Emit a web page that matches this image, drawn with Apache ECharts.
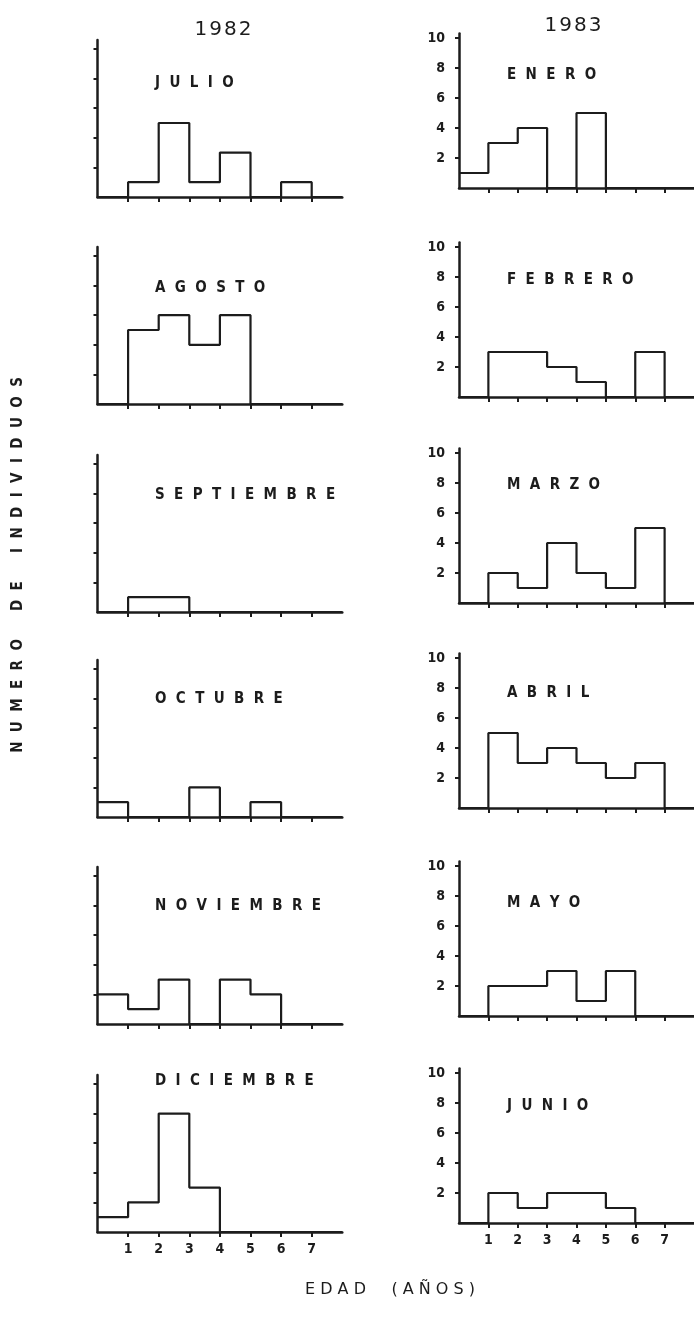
<!DOCTYPE html>
<html><head><meta charset="utf-8">
<script src="https://cdn.jsdelivr.net/npm/echarts@6/dist/echarts.min.js"></script>
<style>html,body{margin:0;padding:0;background:#fff}#c{width:694px;height:1317px}</style>
</head><body><div id="c"></div>
<script>
const years = ['1982', '1983'];
const months1982 = ['JULIO', 'AGOSTO', 'SEPTIEMBRE', 'OCTUBRE', 'NOVIEMBRE', 'DICIEMBRE'];
const months1983 = ['ENERO', 'FEBRERO', 'MARZO', 'ABRIL', 'MAYO', 'JUNIO'];
// number of individuals per age class: bins [0-1],[1-2],...,[7-8]
const julio      = [0, 1, 5, 1, 3, 0, 1, 0];
const agosto     = [0, 5, 6, 4, 6, 0, 0, 0];
const septiembre = [0, 1, 1, 0, 0, 0, 0, 0];
const octubre    = [1, 0, 0, 2, 0, 1, 0, 0];
const noviembre  = [2, 1, 3, 0, 3, 2, 0, 0];
const diciembre  = [1, 2, 8, 3, 0, 0, 0, 0];
const enero      = [1, 3, 4, 0, 5, 0, 0, 0];
const febrero    = [0, 3, 3, 2, 1, 0, 3, 0];
const marzo      = [0, 2, 1, 4, 2, 1, 5, 0];
const abril      = [0, 5, 3, 4, 3, 2, 3, 0];
const mayo       = [0, 2, 2, 3, 1, 3, 0, 0];
const junio      = [0, 2, 1, 2, 2, 1, 0, 0];
const ageTicks = [1, 2, 3, 4, 5, 6, 7];
const countTicks = [2, 4, 6, 8, 10];
const yTitle = 'NUMERO DE INDIVIDUOS';
const xTitle = 'EDAD (AÑOS)';

const data1982 = [julio, agosto, septiembre, octubre, noviembre, diciembre];
const data1983 = [enero, febrero, marzo, abril, mayo, junio];

// layout
const INK = '#1c1c1c';
const FONT = '"DejaVu Sans Condensed", "DejaVu Sans", sans-serif';
const L = { x0: 97.5, pxX: 30.6, pxY: 14.8, ymax: 10.6, bases: [197, 404, 612, 817, 1024, 1232], titleX: 150, titleDy: [117, 119, 120, 121, 121, 154] };
const R = { x0: 459, pxX: 29.8, pxY: 15.0, ymax: 10.3, bases: [188, 397, 603, 808, 1016, 1223], titleX: 502, titleDy: [116, 120, 121, 118, 116, 120] };

function sp(s, gap, wgap) { return s.split(' ').map(w => w.split('').join(gap)).join(wgap); }
function outline(v) {
  const pts = [];
  for (let i = 0; i < v.length; i++) { pts.push([i, v[i]], [i + 1, v[i]]); }
  return pts;
}

const grid = [], xAxis = [], yAxis = [], series = [], title = [];
function addPanel(col, idx, name, values, isRight, isBottom) {
  const g = grid.length;
  const base = col.bases[idx];
  const h = col.ymax * col.pxY;
  grid.push({ left: col.x0, top: base - h, width: 8 * col.pxX, height: h, containLabel: false });
  xAxis.push({
    type: 'value', gridIndex: g, min: 0, max: 8, interval: 1,
    axisLine: { show: true, onZero: false, lineStyle: { color: INK, width: 2.5 } },
    axisTick: { show: true, customValues: ageTicks, length: 5, lineStyle: { color: INK, width: 2 } },
    axisLabel: { show: isBottom, customValues: ageTicks, color: INK, fontFamily: FONT, fontWeight: 'bold', fontSize: 14, margin: 10 },
    splitLine: { show: false }
  });
  yAxis.push({
    type: 'value', gridIndex: g, min: 0, max: col.ymax,
    axisLine: { show: true, lineStyle: { color: INK, width: 2.5 } },
    axisTick: { show: true, customValues: countTicks, length: 4, lineStyle: { color: INK, width: 2 } },
    axisLabel: { show: isRight, customValues: countTicks, color: INK, fontFamily: FONT, fontWeight: 'bold', fontSize: 14, margin: 14 },
    splitLine: { show: false }
  });
  series.push({
    type: 'line', xAxisIndex: g, yAxisIndex: g, data: outline(values),
    showSymbol: false, symbol: 'none', silent: true, animation: false,
    lineStyle: { color: INK, width: 2.2 }
  });
  title.push({
    text: sp(name, '  ', '    '), left: col.titleX, top: base - col.titleDy[idx] - 9,
    textStyle: { color: INK, fontFamily: FONT, fontWeight: 'bold', fontSize: 15 }
  });
}
for (let i = 0; i < 6; i++) {
  addPanel(L, i, months1982[i], data1982[i], false, i === 5);
  addPanel(R, i, months1983[i], data1983[i], true, i === 5);
}
const yearStyle = { color: INK, fontFamily: '"DejaVu Sans", sans-serif', fontWeight: 'normal', fontSize: 20 };
title.push({ text: sp(years[0], '\u200A', ' '), left: 218, top: 15, textAlign: 'center', textStyle: yearStyle });
title.push({ text: sp(years[1], '\u200A', ' '), left: 568, top: 11, textAlign: 'center', textStyle: yearStyle });

const chart = echarts.init(document.getElementById('c'), null, { renderer: 'canvas' });
chart.setOption({
  animation: false,
  backgroundColor: '#ffffff',
  title, grid, xAxis, yAxis, series,
  graphic: [
    { type: 'text', x: 18, y: 565, rotation: Math.PI / 2,
      style: { text: sp(yTitle, '  ', '      '), fill: INK, font: 'bold 15px "DejaVu Sans Condensed", "DejaVu Sans", sans-serif', textAlign: 'center', textVerticalAlign: 'middle' } },
    { type: 'text', x: 390, y: 1290,
      style: { text: sp(xTitle, ' ', '     '), fill: INK, font: '16px "DejaVu Sans", sans-serif', textAlign: 'center', textVerticalAlign: 'middle' } }
  ]
});
</script></body></html>
